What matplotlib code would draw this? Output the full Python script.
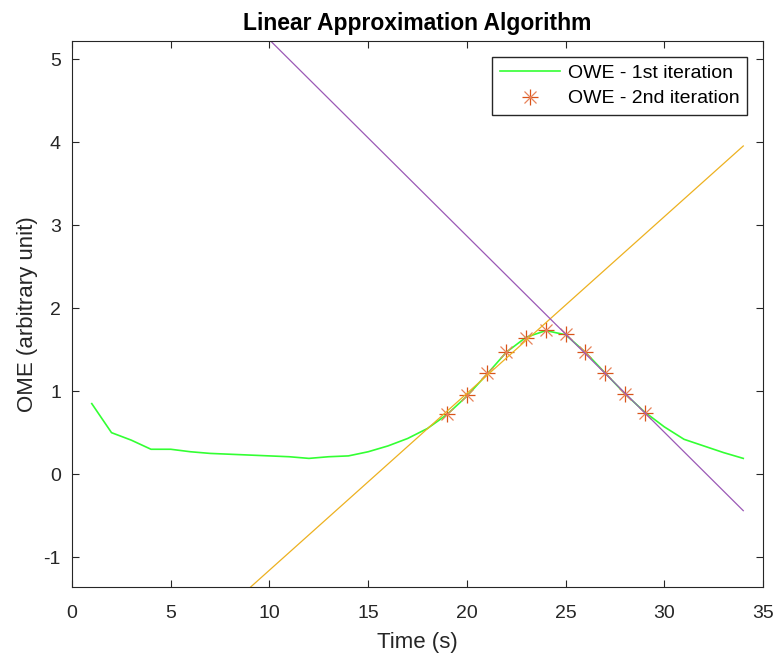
import matplotlib
matplotlib.use("Agg")
import matplotlib.pyplot as plt
import numpy as np

plt.rcParams['font.family'] = ['Liberation Sans', 'DejaVu Sans']
plt.rcParams['axes.unicode_minus'] = False

# OWE - 1st iteration (green line)
time_1st = [1, 2, 3, 4, 5, 6, 7, 8, 9, 10, 11, 12, 13, 14, 15, 16, 17,
            18, 19, 20, 21, 22, 23, 24, 25, 26, 27, 28, 29, 30, 31, 32, 33, 34]
owe_1st = [0.85, 0.50, 0.41, 0.30, 0.30, 0.27, 0.25, 0.24, 0.23, 0.22, 0.21, 0.19,
           0.21, 0.22, 0.27, 0.34, 0.43, 0.55, 0.72, 0.94, 1.20, 1.47, 1.65, 1.73,
           1.68, 1.47, 1.22, 0.97, 0.75, 0.57, 0.42, 0.34, 0.26, 0.19]

# OWE - 2nd iteration (asterisks)
time_2nd = [19, 20, 21, 22, 23, 24, 25, 26, 27, 28, 29]
owe_2nd = [0.72, 0.95, 1.22, 1.47, 1.64, 1.74, 1.69, 1.47, 1.22, 0.96, 0.74]

# fitted lines (end points)
fit_x = [1, 34]
rising_fit = [-3.074, 3.955]
falling_fit = [7.362, -0.44]

fig = plt.figure(figsize=(7.77, 6.55), dpi=100)
ax = fig.add_axes([0.0927, 0.1038, 0.8893, 0.8336])

l1, = ax.plot(time_1st, owe_1st, color='#33ff33', linewidth=1.2)
# MATLAB-like asterisk: plus + cross
m1, = ax.plot(time_2nd, owe_2nd, linestyle='none', marker='+', color='#D95319',
              markersize=11, markeredgewidth=0.9)
m2, = ax.plot(time_2nd, owe_2nd, linestyle='none', marker='x', color='#E8835A',
              markersize=8, markeredgewidth=0.9)
ax.plot(fit_x, rising_fit, color='#EDB120', linewidth=0.9)
ax.plot(fit_x, falling_fit, color='#9B59B6', linewidth=0.9)

ax.set_xlim(0, 35)
ax.set_ylim(-1.36, 5.22)
ax.set_xticks(np.arange(0, 36, 5))
ax.set_yticks(np.arange(-1, 6, 1))

ax.tick_params(direction='in', top=True, right=True, length=5, width=0.8,
               colors='#262626', labelsize=14)
ax.tick_params(axis='x', pad=13)
ax.tick_params(axis='y', pad=8)
for s in ax.spines.values():
    s.set_color('#262626')
    s.set_linewidth(0.8)

ax.set_xlabel('Time (s)', fontsize=16, color='#262626', labelpad=7)
ax.set_ylabel('OME (arbitrary unit)', fontsize=16, color='#262626', labelpad=4)
ax.set_title('Linear Approximation Algorithm', fontsize=16.5, fontweight='bold', pad=8)

ax.legend([l1, (m1, m2)], ['OWE - 1st iteration', 'OWE - 2nd iteration'],
          loc='upper right', fontsize=14, fancybox=False, edgecolor='#262626',
          framealpha=1, handlelength=3.1, handletextpad=0.4, borderaxespad=0.8,
          borderpad=0.4, labelspacing=0.4)

fig.savefig('out.png', dpi=100)
